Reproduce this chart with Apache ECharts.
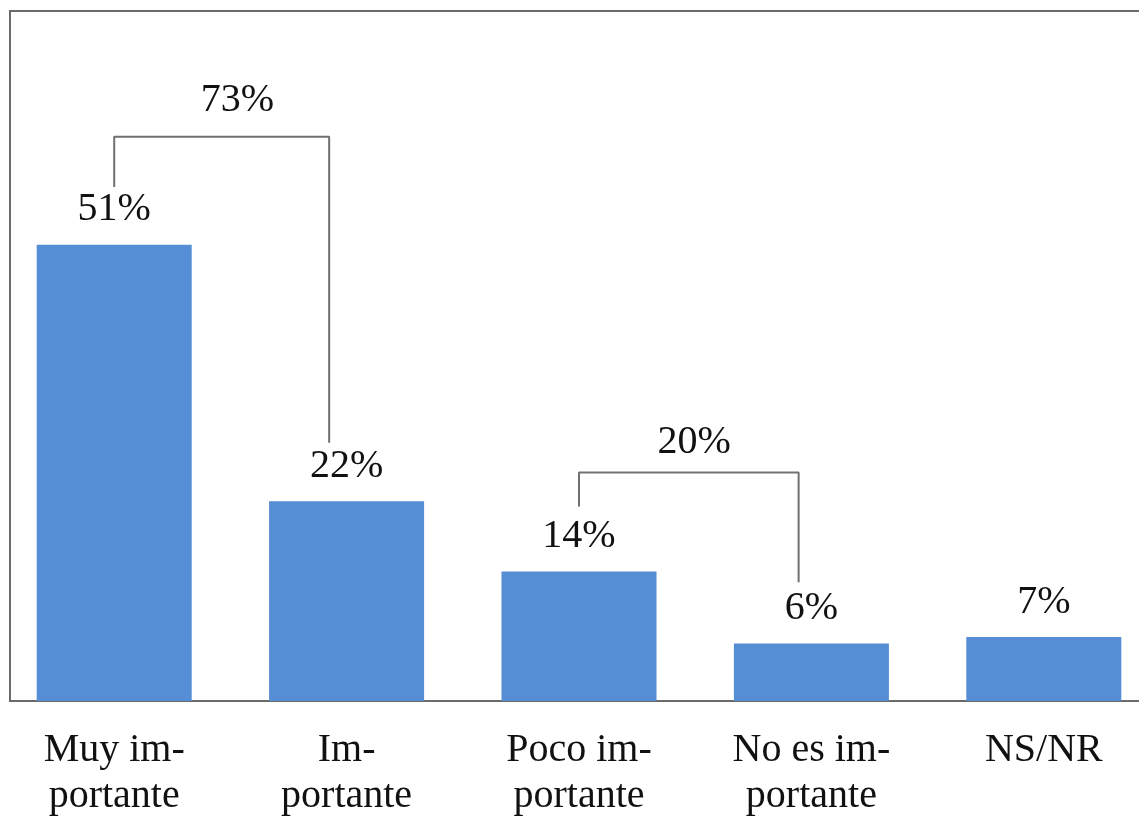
<!DOCTYPE html>
<html>
<head>
<meta charset="utf-8">
<title>Importancia</title>
<script src="https://cdn.jsdelivr.net/npm/echarts@6/dist/echarts.min.js"></script>
<style>
  html, body { margin: 0; padding: 0; background: #fff; }
  #chart { width: 1139px; height: 821px; }
</style>
</head>
<body>
<div id="chart"></div>
<script>
// categories and values (percent)
var categories = ['Muy im-\nportante', 'Im-\nportante', 'Poco im-\nportante', 'No es im-\nportante', 'NS/NR'];
var values = [50.7, 22.2, 14.4, 6.4, 7.1];

// bracket groups: x in category units, y in percent
var bracket1X = [0.0, 0.0, 0.925, 0.925];
var bracket1Y = [57.1, 62.7, 62.7, 28.7];
var bracket2X = [2.0, 2.0, 2.945, 2.945];
var bracket2Y = [21.6, 25.4, 25.4, 13.2];
var bracketTotals = [73, 20];
var bracketLabelX = [0.53, 2.495];
var bracketLabelY = [66.7, 28.7];

var serif = '"Liberation Serif", "Times New Roman", serif';
var frameColor = '#6b6b6b';

function zip(xs, ys) {
    return xs.map(function (x, i) { return [x, ys[i]]; });
}

var myChart = echarts.init(document.getElementById('chart'));
var gridTop = 26, gridBottom = 120;

var option = {
    animation: false,
    grid: { left: -2, width: 1162, top: gridTop, bottom: gridBottom, outerBoundsMode: 'none', containLabel: false },
    xAxis: [{
        type: 'category',
        data: categories,
        axisLine: { show: false },
        axisTick: { show: false },
        axisLabel: {
            interval: 0,
            margin: 26,
            fontFamily: serif,
            fontSize: 40,
            lineHeight: 46,
            color: '#111'
        }
    }, {
        type: 'value',
        min: -0.5,
        max: 4.5,
        show: false
    }],
    yAxis: {
        type: 'value',
        min: 0,
        max: 75,
        show: false
    },
    graphic: [{
        type: 'polyline',
        silent: true,
        shape: { points: [[1145, 11], [10, 11], [10, 821 - gridBottom], [1145, 821 - gridBottom]] },
        style: { stroke: frameColor, lineWidth: 2, fill: null }
    }],
    series: [{
        type: 'bar',
        data: values,
        barCategoryGap: '33.3%',
        itemStyle: { color: '#558ED5' },
        label: {
            show: true,
            position: 'top',
            distance: 15,
            fontFamily: serif,
            fontSize: 40,
            color: '#111',
            formatter: function (p) { return Math.round(p.value) + '%'; }
        }
    }, {
        type: 'line',
        xAxisIndex: 1,
        data: zip(bracket1X, bracket1Y),
        symbol: 'none',
        lineStyle: { color: '#707070', width: 2 }
    }, {
        type: 'line',
        xAxisIndex: 1,
        data: zip(bracket2X, bracket2Y),
        symbol: 'none',
        lineStyle: { color: '#707070', width: 2 }
    }, {
        type: 'scatter',
        xAxisIndex: 1,
        symbolSize: 0,
        itemStyle: { opacity: 1 },
        data: bracketTotals.map(function (t, i) {
            return { value: [bracketLabelX[i], bracketLabelY[i]], total: t };
        }),
        label: {
            show: true,
            position: 'inside',
            fontFamily: serif,
            fontSize: 40,
            color: '#111',
            formatter: function (p) { return p.data.total + '%'; }
        }
    }]
};

myChart.setOption(option);
</script>
</body>
</html>
